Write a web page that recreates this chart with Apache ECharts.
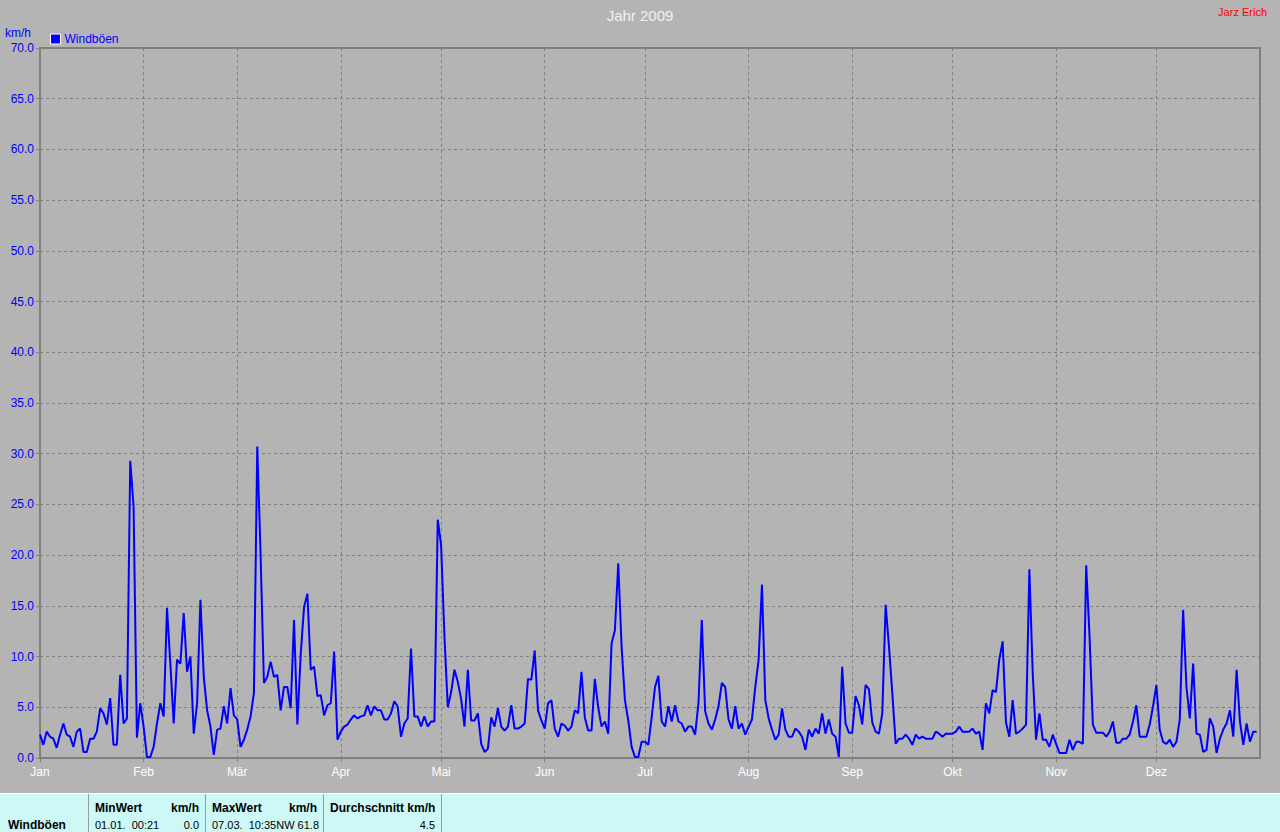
<!DOCTYPE html>
<html>
<head>
<meta charset="utf-8">
<script src="https://cdn.jsdelivr.net/npm/echarts@6/dist/echarts.min.js"></script>
<style>
html,body{margin:0;padding:0;background:#b4b4b4;}
#chart{width:1280px;height:832px;}
</style>
</head>
<body>
<div id="chart"></div>
<script>
// ---- data ----
const monthStarts = [0, 31, 59, 90, 120, 151, 181, 212, 243, 273, 304, 334];
const monthLabels = ['Jan', 'Feb', 'Mär', 'Apr', 'Mai', 'Jun', 'Jul', 'Aug', 'Sep', 'Okt', 'Nov', 'Dez'];
const yTicks = [0, 5, 10, 15, 20, 25, 30, 35, 40, 45, 50, 55, 60, 65, 70];
// daily wind gusts (km/h), 2009
const gusts = [
  2.3, 1.3, 2.6, 2.1, 1.9, 1.0, 2.3, 3.4, 2.3, 2.1,
  1.1, 2.6, 2.9, 0.6, 0.6, 1.9, 1.9, 2.6, 4.9, 4.4,
  3.3, 5.9, 1.3, 1.3, 8.2, 3.4, 3.9, 29.3, 24.8, 2.0,
  5.4, 3.1, 0.1, 0.1, 1.1, 3.4, 5.4, 4.1, 14.8, 9.3,
  3.4, 9.7, 9.3, 14.3, 8.5, 10.0, 2.4, 5.4, 15.6, 8.0,
  4.7, 3.1, 0.3, 2.8, 2.9, 5.1, 3.4, 6.9, 4.2, 3.8,
  1.1, 1.8, 2.8, 4.1, 6.4, 30.7, 20.0, 7.4, 8.0, 9.5,
  8.0, 8.2, 4.7, 7.0, 7.0, 4.9, 13.6, 3.3, 10.2, 14.9,
  16.2, 8.7, 9.0, 6.1, 6.2, 4.2, 5.2, 5.4, 10.5, 1.8,
  2.6, 3.1, 3.3, 3.8, 4.2, 3.9, 4.1, 4.2, 5.2, 4.2,
  5.1, 4.7, 4.7, 3.8, 3.8, 4.4, 5.6, 5.1, 2.1, 3.4,
  3.9, 10.8, 4.1, 4.1, 3.1, 4.1, 3.1, 3.6, 3.6, 23.5,
  21.0, 12.0, 5.0, 6.5, 8.7, 7.5, 5.8, 3.1, 8.7, 3.7,
  3.7, 4.4, 1.4, 0.6, 0.9, 4.0, 3.1, 4.9, 3.1, 2.7,
  3.1, 5.2, 2.9, 2.9, 3.1, 3.4, 7.8, 7.7, 10.6, 4.7,
  3.7, 2.9, 5.4, 5.7, 2.9, 2.1, 3.4, 3.2, 2.7, 3.1,
  4.7, 4.4, 8.5, 4.0, 2.7, 2.7, 7.8, 5.0, 3.1, 3.6,
  2.4, 11.3, 12.6, 19.2, 11.0, 5.7, 3.7, 1.1, 0.1, 0.1,
  1.6, 1.6, 1.3, 4.0, 7.0, 8.1, 3.6, 3.1, 5.1, 3.6,
  5.2, 3.6, 3.4, 2.6, 3.1, 3.1, 2.3, 5.4, 13.6, 4.6,
  3.4, 2.8, 3.8, 5.1, 7.4, 7.0, 3.8, 2.9, 5.1, 2.9,
  3.4, 2.3, 3.1, 3.8, 7.0, 9.7, 17.1, 5.7, 3.9, 2.8,
  1.8, 2.3, 4.9, 2.8, 2.1, 2.1, 2.9, 2.6, 2.1, 0.8,
  2.8, 2.1, 2.9, 2.4, 4.4, 2.4, 3.8, 2.4, 2.1, 0.1,
  9.0, 3.4, 2.5, 2.5, 6.1, 5.2, 3.3, 7.2, 6.8, 3.5,
  2.6, 2.4, 4.4, 15.1, 11.0, 6.4, 1.4, 1.9, 1.9, 2.3,
  1.9, 1.3, 2.3, 1.9, 2.1, 1.9, 1.9, 1.9, 2.6, 2.4,
  2.1, 2.4, 2.4, 2.4, 2.6, 3.1, 2.6, 2.6, 2.6, 2.9,
  2.4, 2.6, 0.8, 5.4, 4.4, 6.7, 6.5, 9.7, 11.5, 3.5,
  2.1, 5.7, 2.4, 2.6, 2.9, 3.3, 18.6, 8.4, 1.8, 4.4,
  1.8, 1.8, 1.1, 2.3, 1.4, 0.5, 0.5, 0.5, 1.8, 0.8,
  1.6, 1.6, 1.4, 19.0, 12.0, 3.3, 2.5, 2.5, 2.5, 2.1,
  2.6, 3.6, 1.5, 1.5, 1.9, 1.9, 2.3, 3.6, 5.2, 2.1,
  2.1, 2.1, 3.3, 5.1, 7.2, 2.8, 1.6, 1.4, 1.8, 1.1,
  1.6, 3.8, 14.6, 7.0, 3.9, 9.3, 2.4, 2.3, 0.6, 0.8,
  3.9, 3.1, 0.5, 1.9, 2.8, 3.4, 4.7, 2.1, 8.7, 3.6,
  1.3, 3.4, 1.6, 2.6, 2.6
];
const seriesName = 'Windböen';
const tableHeaders = ['MinWert', 'km/h', 'MaxWert', 'km/h', 'Durchschnitt km/h'];
const tableRow = ['01.01.  00:21', '0.0', '07.03.  10:35NW 61.8', '4.5'];

// ---- chart ----
const FONT = '"Liberation Sans", Arial, sans-serif';
const chart = echarts.init(document.getElementById('chart'), null, {renderer: 'svg'});
const seriesData = gusts.map((v, i) => [i, v]);

const option = {
  backgroundColor: '#b4b4b4',
  animation: false,
  title: [
    {text: 'Jahr 2009', left: 'center', top: 3,
     textStyle: {color: '#f2f2f2', fontSize: 15, fontWeight: 'normal', fontFamily: FONT}},
    {text: 'Jarz Erich', right: 8, top: 1,
     textStyle: {color: '#ff0000', fontSize: 11, fontWeight: 'normal', fontFamily: FONT}}
  ],
  legend: {
    data: [seriesName], left: 45, top: 28, icon: 'rect', itemWidth: 10, itemHeight: 10, itemGap: 4,
    itemStyle: {borderColor: '#ffffff', borderWidth: 1},
    textStyle: {color: '#0000ff', fontSize: 12, fontFamily: FONT, padding: [0, 0, 0, -1]}
  },
  grid: {left: 40, right: 20, top: 48, bottom: 74, show: true, borderColor: '#808080', borderWidth: 2, backgroundColor: 'transparent'},
  xAxis: {
    type: 'value', min: 0, max: 365,
    axisLine: {show: true, lineStyle: {color: '#808080', width: 2}},
    axisTick: {show: true, length: 4, customValues: monthStarts, lineStyle: {color: '#808080'}},
    axisLabel: {customValues: monthStarts, color: '#ffffff', fontSize: 12, fontFamily: FONT, margin: 8,
      formatter: v => monthLabels[monthStarts.indexOf(Math.round(v))] || ''},
    splitLine: {show: true, lineStyle: {color: '#808080', type: [3, 3], width: 1}}
  },
  yAxis: {
    type: 'value', min: 0, max: 70, interval: 5,
    axisLine: {show: true, lineStyle: {color: '#808080', width: 2}},
    axisTick: {show: true, length: 4, lineStyle: {color: '#808080'}},
    axisLabel: {color: '#0000ff', fontSize: 12, fontFamily: FONT, margin: 6,
      formatter: v => v.toFixed(1)},
    splitLine: {show: true, lineStyle: {color: '#808080', type: [3, 3], width: 1}}
  },
  series: [{
    name: seriesName, type: 'line', data: seriesData, showSymbol: false, symbol: 'none',
    lineStyle: {color: '#0000ff', width: 2}, itemStyle: {color: '#0000ff'}
  }],
  graphic: [
    {type: 'text', left: 5, top: 27, style: {text: 'km/h', fill: '#0000ff', font: '12px ' + FONT}},
    {type: 'rect', shape: {x: 0, y: 793, width: 1280, height: 39}, style: {fill: '#ccf8f6'}},
    {type: 'line', shape: {x1: 0, y1: 793.5, x2: 1280, y2: 793.5}, style: {stroke: '#ffffff', lineWidth: 1}},
    {type: 'line', shape: {x1: 88.5, y1: 794, x2: 88.5, y2: 832}, style: {stroke: '#9a9a9a', lineWidth: 1}},
    {type: 'line', shape: {x1: 205.5, y1: 794, x2: 205.5, y2: 832}, style: {stroke: '#9a9a9a', lineWidth: 1}},
    {type: 'line', shape: {x1: 323.5, y1: 794, x2: 323.5, y2: 832}, style: {stroke: '#9a9a9a', lineWidth: 1}},
    {type: 'line', shape: {x1: 441.5, y1: 794, x2: 441.5, y2: 832}, style: {stroke: '#9a9a9a', lineWidth: 1}},
    {type: 'text', x: 8, y: 825, style: {text: seriesName, fill: '#000', font: 'bold 12px ' + FONT, textVerticalAlign: 'middle'}},
    {type: 'text', x: 95, y: 808, style: {text: tableHeaders[0], fill: '#000', font: 'bold 12px ' + FONT, textVerticalAlign: 'middle'}},
    {type: 'text', x: 199, y: 808, style: {text: tableHeaders[1], fill: '#000', font: 'bold 12px ' + FONT, textAlign: 'right', textVerticalAlign: 'middle'}},
    {type: 'text', x: 212, y: 808, style: {text: tableHeaders[2], fill: '#000', font: 'bold 12px ' + FONT, textVerticalAlign: 'middle'}},
    {type: 'text', x: 317, y: 808, style: {text: tableHeaders[3], fill: '#000', font: 'bold 12px ' + FONT, textAlign: 'right', textVerticalAlign: 'middle'}},
    {type: 'text', x: 330, y: 808, style: {text: tableHeaders[4], fill: '#000', font: 'bold 12px ' + FONT, textVerticalAlign: 'middle'}},
    {type: 'text', x: 95, y: 825, style: {text: tableRow[0], fill: '#000', font: '11px ' + FONT, textVerticalAlign: 'middle'}},
    {type: 'text', x: 199, y: 825, style: {text: tableRow[1], fill: '#000', font: '11px ' + FONT, textAlign: 'right', textVerticalAlign: 'middle'}},
    {type: 'text', x: 212, y: 825, style: {text: tableRow[2], fill: '#000', font: '11px ' + FONT, textVerticalAlign: 'middle'}},
    {type: 'text', x: 435, y: 825, style: {text: tableRow[3], fill: '#000', font: '11px ' + FONT, textAlign: 'right', textVerticalAlign: 'middle'}}
  ]
};
chart.setOption(option);
</script>
</body>
</html>
